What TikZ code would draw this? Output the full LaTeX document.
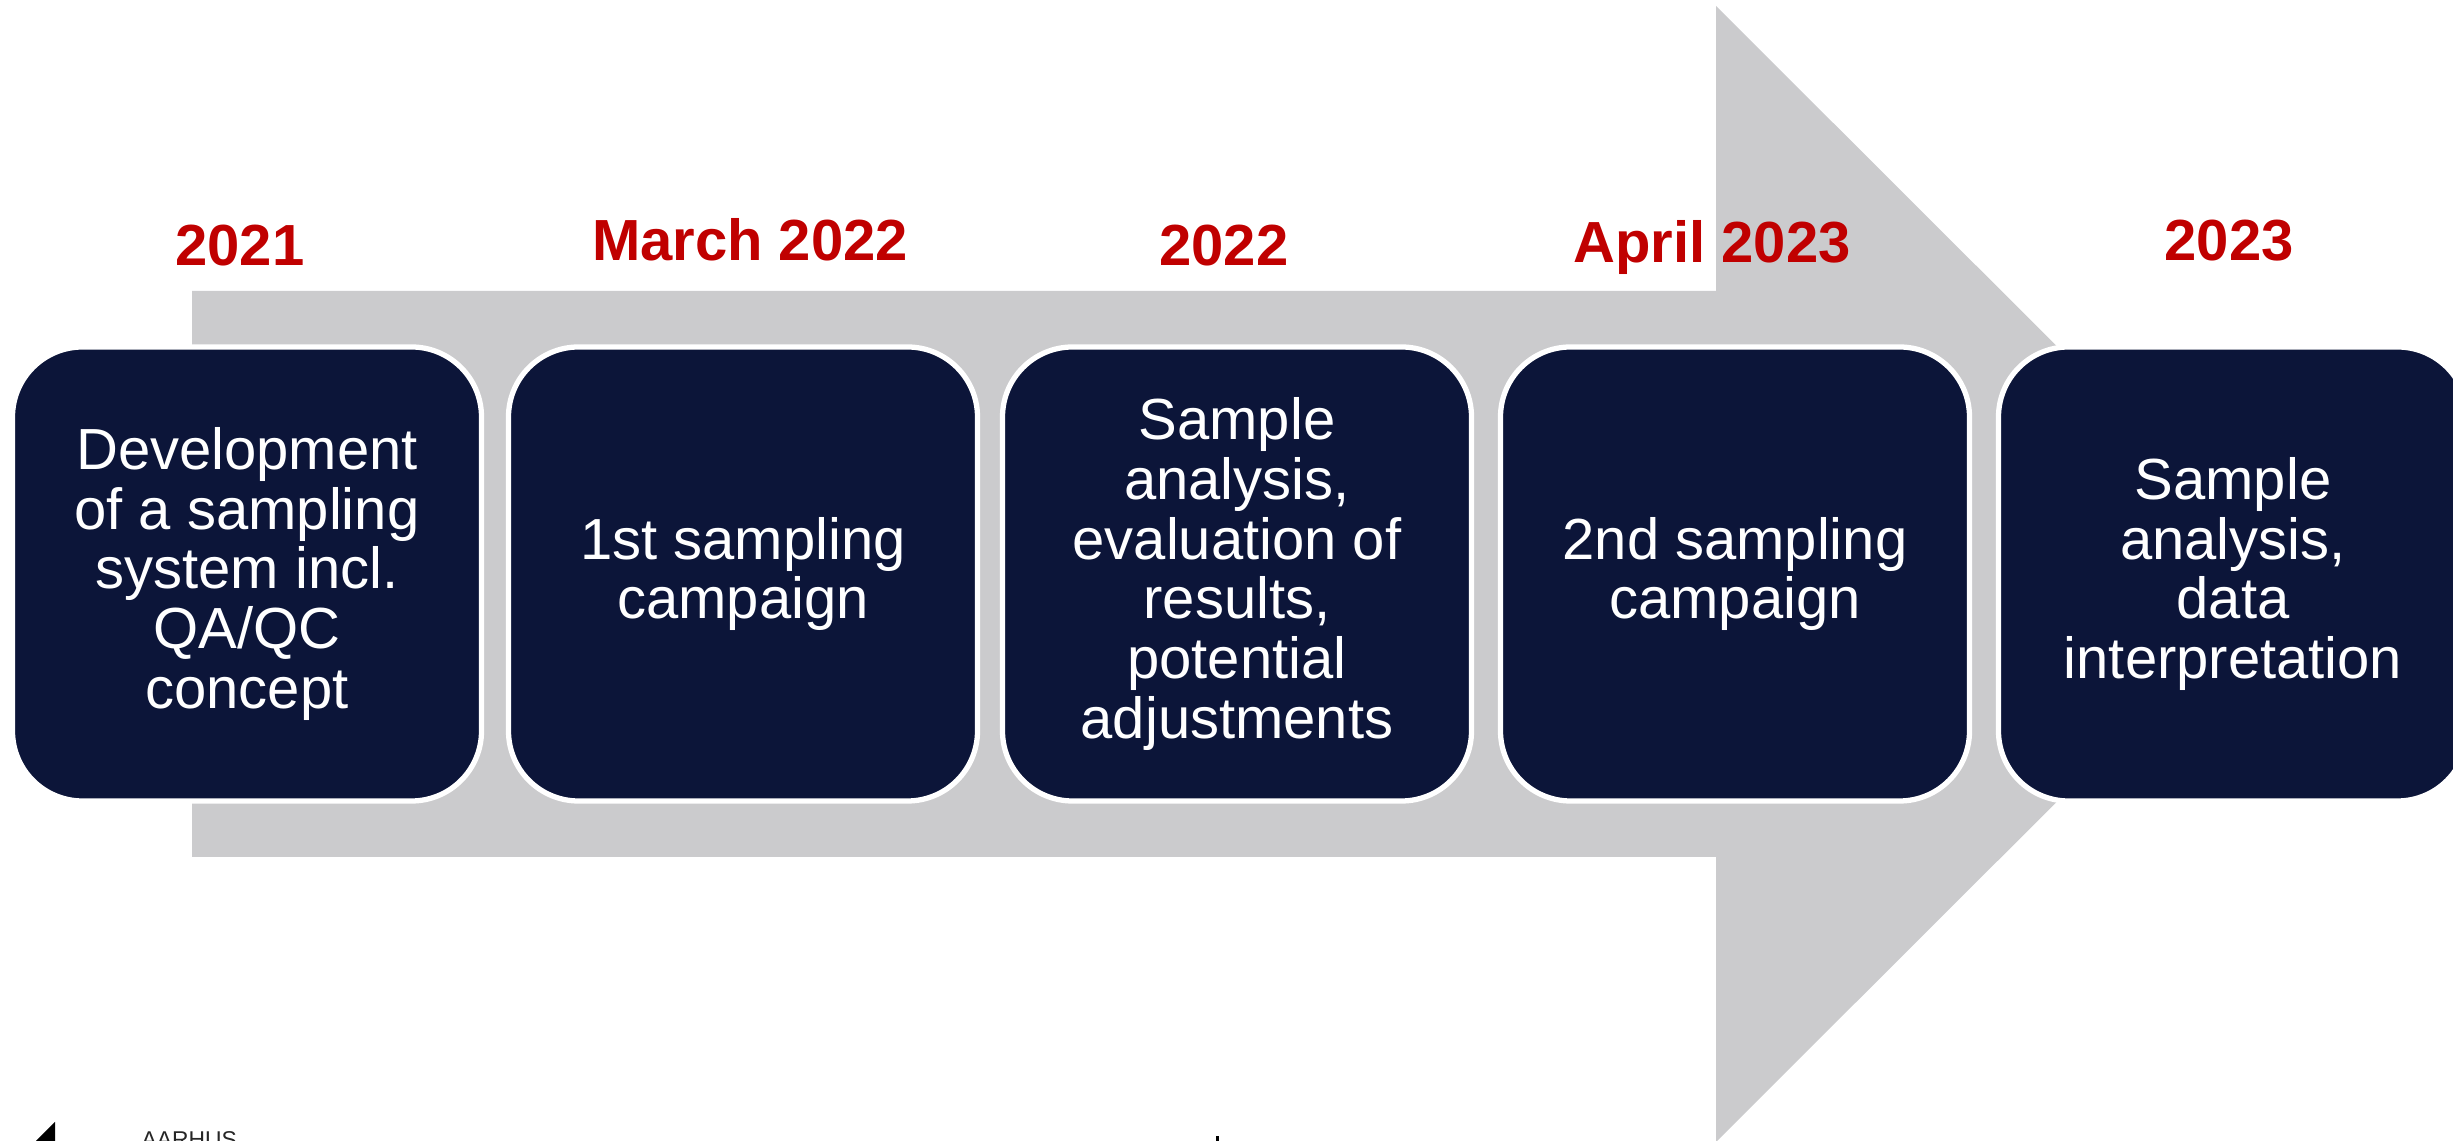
\documentclass[tikz,border=0pt]{standalone}
\usepackage{fontspec}
\setmainfont{Liberation Sans}
\definecolor{navy}{HTML}{0C1539}
\definecolor{arrowgray}{HTML}{CBCBCD}
\definecolor{yearred}{HTML}{C00000}
\begin{document}
\begin{tikzpicture}[
        stagebox/.style={draw=white, line width=1.5pt, fill=navy, rounded corners=0.7cm,
            minimum width=4.69cm, minimum height=4.54cm, text=white, align=center,
            font=\fontsize{16.5}{17}\selectfont},
        yearlabel/.style={text=yearred, anchor=base, inner sep=0pt,
            font=\fontsize{16.5}{17}\selectfont\bfseries}]
        \useasboundingbox (0,0) rectangle (24.53,11.41);
        \clip (0,0) rectangle (24.53,11.41);

        % grey arrow behind the stages
        \fill[arrowgray] (1.92,8.50) -- (17.16,8.50) -- (17.16,11.35) -- (22.85,5.67)
            -- (17.16,-0.01) -- (17.16,2.84) -- (1.92,2.84) -- cycle;

        \node[stagebox] (s1) at (2.47,5.67) {Development\\of a sampling\\system incl.\\QA/QC\\concept};
        \node[stagebox] (s2) at (7.43,5.67) {1st sampling\\campaign};
        \node[stagebox] (s3) at (12.37,5.67) {Sample\\analysis,\\evaluation of\\results,\\potential\\adjustments};
        \node[stagebox] (s4) at (17.35,5.67) {2nd sampling\\campaign};
        \node[stagebox] (s5) at (22.33,5.67) {Sample\\analysis,\\data\\interpretation};

        \node[yearlabel] (y1) at (2.40,8.75) {2021};
        \node[yearlabel] (y2) at (7.50,8.80) {March 2022};
        \node[yearlabel] (y3) at (12.24,8.75) {2022};
        \node[yearlabel] (y4) at (17.12,8.78) {April 2023};
        \node[yearlabel] (y5) at (22.29,8.80) {2023};

        % cut-off footer
        \fill[black] (0.36,0) -- (0.55,0.19) -- (0.55,0) -- cycle;
        \node[anchor=base west, inner sep=0pt, text=black!85, font=\fontsize{6.5}{7}\selectfont] (uni) at (1.41,-0.07) {AARHUS};
        \fill[black] (12.16,0) rectangle (12.19,0.05);
    \end{tikzpicture}
\end{document}
